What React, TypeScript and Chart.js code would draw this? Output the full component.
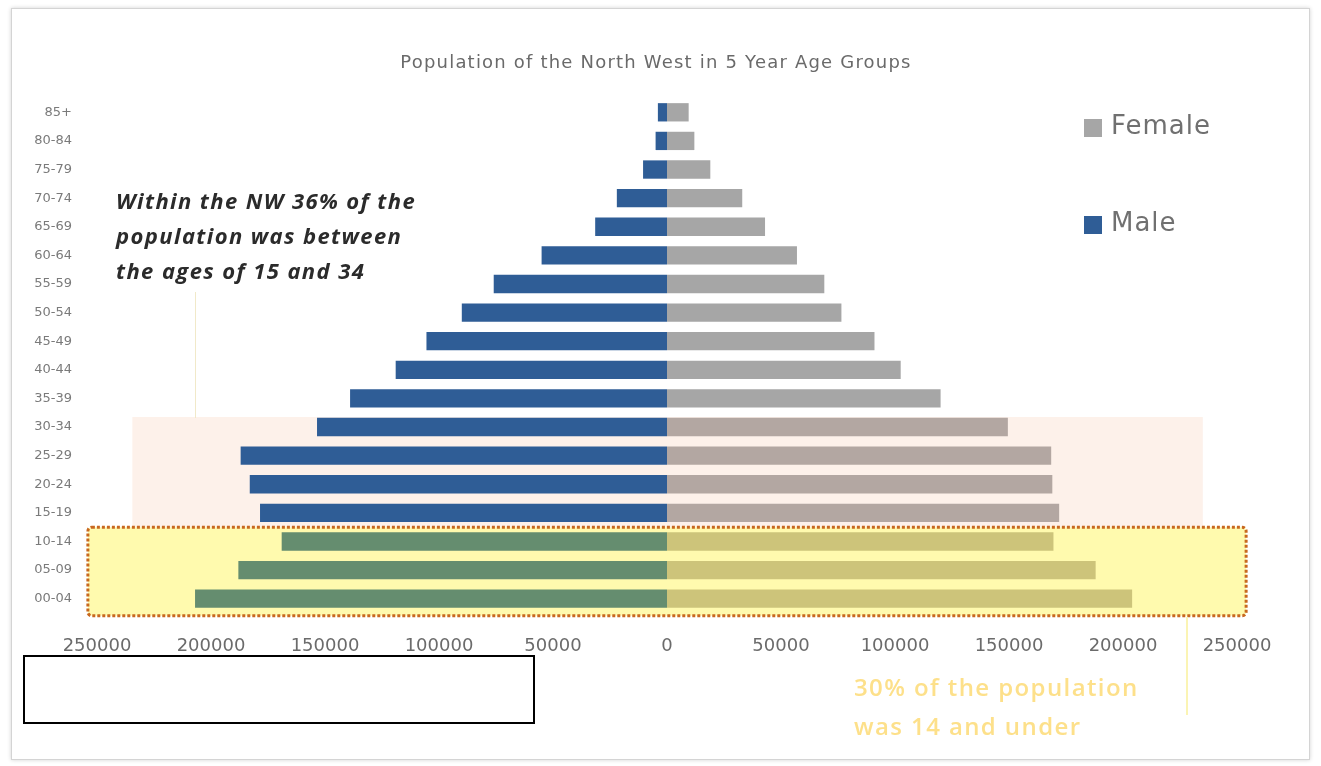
import React, { useEffect, useRef } from 'react';
import { Chart, registerables } from 'chart.js';

Chart.register(...registerables);

// ---- data (top row first, as in the picture) ----
const ageGroups = ['85+', '80-84', '75-79', '70-74', '65-69', '60-64', '55-59', '50-54', '45-49', '40-44', '35-39', '30-34', '25-29', '20-24', '15-19', '10-14', '05-09', '00-04'];
const maleValues = [4000, 5000, 10500, 22000, 31500, 55000, 76000, 90000, 105500, 119000, 139000, 153500, 187000, 183000, 178500, 169000, 188000, 207000];
const femaleValues = [9500, 12000, 19000, 33000, 43000, 57000, 69000, 76500, 91000, 102500, 120000, 149500, 168500, 169000, 172000, 169500, 188000, 204000];
const xTickValues = [-250000, -200000, -150000, -100000, -50000, 0, 50000, 100000, 150000, 200000, 250000];
const youngGroups = ['10-14', '05-09', '00-04'];
const adultGroups = ['30-34', '25-29', '20-24', '15-19'];

const title = 'Population of the North West in 5 Year Age Groups';
const noteAdult = ['Within the NW 36% of the', 'population was between', 'the ages of 15 and 34'];
const noteYoung = ['30% of the population', 'was 14 and under'];

const MALE = '#2f5d96';
const MALE_Y = '#658d6f';
const FEMALE = '#a6a6a6';
const FEMALE_P = '#b3a7a2';
const FEMALE_Y = '#cdc47a';

const boxesPlugin = {
  id: 'boxes',
  beforeDatasetsDraw(chart: any) {
    const { ctx, scales } = chart;
    const x = scales.x;
    const y = scales.y;
    const iTopAdult = ageGroups.indexOf(adultGroups[0]);
    const iLastAdult = ageGroups.indexOf(adultGroups[adultGroups.length - 1]);
    const iFirstYoung = ageGroups.indexOf(youngGroups[0]);
    const iLastYoung = ageGroups.indexOf(youngGroups[youngGroups.length - 1]);
    const step = y.getPixelForValue(1) - y.getPixelForValue(0);
    const yellowTop = (y.getPixelForValue(iLastAdult) + y.getPixelForValue(iFirstYoung)) / 2;
    const yellowBottom = y.getPixelForValue(iLastYoung) + step * 0.6;
    const peachTop = y.getPixelForValue(iTopAdult) - step * 0.35;

    ctx.save();
    // peach band (15-34)
    const pl = x.getPixelForValue(-234500);
    const pr = x.getPixelForValue(235000);
    ctx.fillStyle = '#fdf1ea';
    ctx.fillRect(pl, peachTop, pr - pl, yellowTop - peachTop);

    // yellow box (0-14)
    const yl = x.getPixelForValue(-254000);
    const yr = x.getPixelForValue(254000);
    ctx.fillStyle = '#fffaae';
    ctx.beginPath();
    ctx.roundRect(yl, yellowTop, yr - yl, yellowBottom - yellowTop, 4);
    ctx.fill();
    ctx.setLineDash([3, 2]);
    ctx.lineWidth = 3;
    ctx.strokeStyle = '#c8681f';
    ctx.stroke();
    ctx.restore();
  },
};

export default function App() {
  const ref = useRef<HTMLCanvasElement | null>(null);

  useEffect(() => {
    if (!ref.current) return;
    const maleColors = ageGroups.map((g) => (youngGroups.includes(g) ? MALE_Y : MALE));
    const femaleColors = ageGroups.map((g) =>
      youngGroups.includes(g) ? FEMALE_Y : adultGroups.includes(g) ? FEMALE_P : FEMALE
    );
    const chart = new Chart(ref.current, {
      type: 'bar',
      data: {
        labels: ageGroups,
        datasets: [
          {
            label: 'Male',
            data: maleValues.map((v) => -v),
            backgroundColor: maleColors,
            barPercentage: 0.64,
            categoryPercentage: 1,
          },
          {
            label: 'Female',
            data: femaleValues,
            backgroundColor: femaleColors,
            barPercentage: 0.64,
            categoryPercentage: 1,
          },
        ],
      },
      options: {
        indexAxis: 'y',
        responsive: false,
        animation: false,
        layout: { padding: { left: 0, top: 98, right: 84, bottom: 0 } },
        plugins: {
          legend: { display: false },
          title: { display: false },
          tooltip: { enabled: false },
        },
        scales: {
          x: {
            stacked: true,
            min: -250000,
            max: 250000,
            afterBuildTicks: (scale: any) => {
              scale.ticks = xTickValues.map((v) => ({ value: v }));
            },
            afterFit: (scale: any) => {
              scale.height = 153;
            },
            grid: { display: false, drawTicks: false },
            border: { display: false },
            ticks: {
              padding: 23,
              color: '#6b6b6b',
              font: { family: 'DejaVu Sans', size: 18 },
              maxRotation: 0,
              autoSkip: false,
              callback: (v: any) => String(Math.abs(Number(v))),
            },
          },
          y: {
            stacked: true,
            afterFit: (scale: any) => {
              scale.width = 97;
            },
            grid: { display: false, drawTicks: false },
            border: { display: false },
            ticks: {
              padding: 25,
              color: '#7a7a7a',
              autoSkip: false,
              font: { family: 'DejaVu Sans', size: 13 },
            },
          },
        },
      },
      plugins: [boxesPlugin],
    });
    return () => chart.destroy();
  }, []);

  return (
    <div style={{ position: 'absolute', left: 0, top: 0, width: 1321, height: 766, background: '#fff', overflow: 'hidden' }}>
      <div
        style={{
          position: 'absolute',
          left: 11,
          top: 8,
          width: 1297,
          height: 750,
          border: '1px solid #d4d4d4',
          boxShadow: '0 0 4px rgba(0,0,0,0.18)',
          background: '#fff',
        }}
      />
      <canvas ref={ref} width={1321} height={766} style={{ position: 'absolute', left: 0, top: 0 }} />
      <div
        style={{
          position: 'absolute',
          left: 0,
          width: 1312,
          top: 51,
          textAlign: 'center',
          fontFamily: 'DejaVu Sans',
          fontSize: 18,
          letterSpacing: 1.2,
          color: '#6a6a6a',
          whiteSpace: 'nowrap',
        }}
      >
        {title}
      </div>
      {/* legend */}
      <div style={{ position: 'absolute', left: 1084, top: 119, width: 18, height: 18, background: '#a6a6a6' }} />
      <div style={{ position: 'absolute', left: 1111, top: 110, fontFamily: 'DejaVu Sans', fontSize: 26, letterSpacing: 1, color: '#707070' }}>Female</div>
      <div style={{ position: 'absolute', left: 1084, top: 216, width: 18, height: 18, background: MALE }} />
      <div style={{ position: 'absolute', left: 1111, top: 207, fontFamily: 'DejaVu Sans', fontSize: 26, letterSpacing: 1, color: '#707070' }}>Male</div>
      {/* annotation for 15-34 */}
      <div
        style={{
          position: 'absolute',
          left: 116,
          top: 183,
          fontFamily: 'Open Sans',
          fontWeight: 700,
          fontStyle: 'italic',
          fontSize: 22,
          letterSpacing: 1.4,
          lineHeight: '35px',
          color: '#2b2b2b',
          whiteSpace: 'nowrap',
        }}
      >
        {noteAdult.map((l, i) => (
          <div key={i}>{l}</div>
        ))}
      </div>
      <div style={{ position: 'absolute', left: 195, top: 292, width: 1, height: 126, background: '#f1e9c9' }} />
      {/* annotation for 0-14 */}
      <div style={{ position: 'absolute', left: 1186, top: 617, width: 2, height: 98, background: '#fbf4b4' }} />
      <div
        style={{
          position: 'absolute',
          left: 854,
          top: 667,
          fontFamily: 'Open Sans',
          fontWeight: 600,
          fontSize: 24,
          letterSpacing: 1.4,
          lineHeight: '39px',
          color: '#fde08a',
          whiteSpace: 'nowrap',
        }}
      >
        {noteYoung.map((l, i) => (
          <div key={i}>{l}</div>
        ))}
      </div>
      {/* empty black box */}
      <div style={{ position: 'absolute', left: 23, top: 655, width: 508, height: 65, border: '2px solid #000', background: '#fff' }} />
    </div>
  );
}
